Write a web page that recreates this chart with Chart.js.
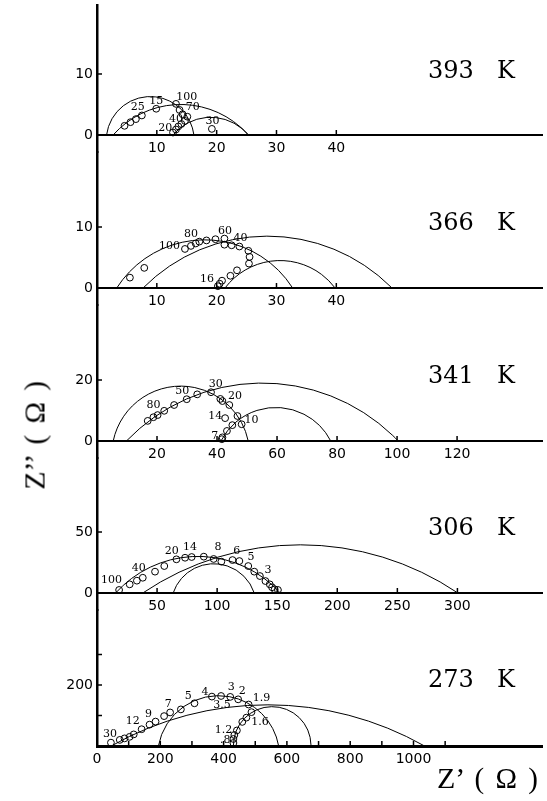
<!DOCTYPE html>
<html>
<head>
<meta charset="utf-8">
<script src="https://cdn.jsdelivr.net/npm/chart.js@4.4.0/dist/chart.umd.min.js"></script>
<style>
  body { margin: 0; background: #fff; }
  #page { position: relative; width: 547px; height: 801px; overflow: hidden; background: #fff; }
  canvas { position: absolute; left: 0; }
  .temp { position: absolute; left: 428px; font-family: 'DejaVu Serif'; font-size: 24px; line-height: 28px; white-space: pre; word-spacing: 4px; color: #000; }
  .ttl { position: absolute; font-family: 'Liberation Serif'; color: #000; white-space: pre; line-height: 30px; }
  .ttl .big { font-size: 30px; }
  .ttl .unit { font-size: 29px; letter-spacing: 2px; }
</style>
</head>
<body>
<div id="page">
  <canvas id="c1" width="547" height="160" style="top:0px"></canvas>
  <canvas id="c2" width="547" height="169" style="top:144px"></canvas>
  <canvas id="c3" width="547" height="169" style="top:297px"></canvas>
  <canvas id="c4" width="547" height="168" style="top:450px"></canvas>
  <canvas id="c5" width="547" height="178" style="top:602px"></canvas>
</div>
<script>
// temperatures, top panel first
var temps = ['393  K', '366  K', '341  K', '306  K', '273  K'];

// 393 K
var x393 = [4.6, 5.6, 6.5, 7.5, 9.9, 13.2, 13.8, 14.3, 15.1, 14.7, 14.1, 13.6, 13.2, 12.7, 19.2];
var y393 = [1.5, 2.1, 2.6, 3.2, 4.3, 5.1, 4.1, 3.4, 3.0, 2.3, 1.8, 1.4, 0.9, 0.4, 1.0];
var arcs393 = [[1.6, 16.2, 6.3], [2.7, 25.3, 5.0], [12.7, 25.3, 2.9]];
var lab393 = [['25', 6.8, 4.6], ['15', 9.9, 5.5], ['100', 15.0, 6.2], ['70', 16.0, 4.6],
              ['40', 13.2, 2.6], ['20', 11.4, 1.1], ['30', 19.3, 2.2]];
var xt393 = [10, 20, 30, 40];
var yt393 = [0, 10];

// 366 K
var x366 = [5.5, 7.9, 14.7, 15.7, 16.5, 17.1, 18.3, 19.8, 21.3, 21.3, 22.5, 23.8, 25.3, 25.5, 25.4, 23.4, 22.3, 20.9, 20.5, 20.2];
var y366 = [1.7, 3.3, 6.4, 6.9, 7.3, 7.6, 7.8, 8.0, 8.1, 7.1, 7.0, 6.8, 6.1, 5.1, 4.0, 2.9, 2.0, 1.2, 0.7, 0.3];
var arcs366 = [[3.3, 32.7, 7.9], [7.7, 49.3, 8.5], [21.4, 39.8, 4.5]];
var lab366 = [['100', 12.1, 6.8], ['80', 15.7, 8.9], ['60', 21.4, 9.4], ['40', 24.0, 8.1], ['16', 18.4, 1.5]];
var xt366 = [10, 20, 30, 40];
var yt366 = [0, 10];

// 341 K
var x341 = [16.9, 18.8, 20.2, 22.4, 25.7, 29.9, 33.4, 38.0, 41.1, 41.8, 44.1, 46.8, 48.2, 45.1, 43.3, 41.8, 41.6, 42.7];
var y341 = [6.6, 7.8, 8.5, 9.9, 11.8, 13.7, 15.3, 16.0, 13.8, 13.1, 11.8, 8.2, 5.5, 5.2, 3.3, 1.2, 0.6, 7.5];
var arcs341 = [[5.4, 50.4, 18], [9.8, 100.4, 19], [41.3, 77.9, 11]];
var lab341 = [['80', 18.8, 11.8], ['50', 28.4, 16.4], ['30', 39.6, 18.6], ['20', 46.0, 14.8],
              ['14', 39.4, 8.2], ['10', 51.5, 6.7], ['7', 39.2, 1.6]];
var xt341 = [20, 40, 60, 80, 100, 120];
var yt341 = [0, 20];

// 306 K
var x306 = [18.4, 27.2, 33.2, 38.1, 48.3, 56.0, 66.1, 73.3, 78.8, 88.9, 97.1, 103.5, 112.8, 118.5, 125.9, 130.9, 135.6, 140.2, 143.8, 145.7, 147.9, 150.6];
var y306 = [2.5, 7.1, 10.1, 12.5, 17.5, 22.1, 27.6, 28.9, 29.5, 29.8, 27.9, 25.7, 27.0, 26.2, 22.1, 17.5, 13.9, 9.8, 7.1, 4.7, 3.0, 2.5];
var arcs306 = [[15.5, 152.5, 30], [38.1, 300.4, 39.5], [63.4, 130.9, 24]];
var lab306 = [['100', 12.1, 10.7], ['40', 34.8, 20.7], ['20', 62.3, 34.4], ['14', 77.4, 38.0],
              ['8', 100.7, 38.0], ['6', 116.3, 34.4], ['5', 128.1, 29.8], ['3', 142.4, 18.9]];
var xt306 = [50, 100, 150, 200, 250, 300];
var yt306 = [0, 50];

// 273 K
var x273 = [44, 72, 87, 103, 116, 141, 166, 185, 212, 231, 265, 308, 363, 392, 421, 446, 479, 488, 472, 459, 442, 434, 431, 431];
var y273 = [11, 20, 25, 30, 38, 55, 70, 80, 98, 110, 120, 140, 162, 164, 161, 153, 136, 111, 93, 79, 51, 36, 23, 10];
var arcs273 = [[45, 1035, 135], [194, 574, 165], [431, 676, 129]];
var lab273 = [['30', 41, 38], ['12', 113, 82], ['9', 163, 104], ['7', 225, 138], ['5', 288, 165],
              ['4', 341, 175], ['3', 424, 192], ['2', 459, 180], ['1.9', 520, 156], ['3.5', 395, 134],
              ['1.6', 515, 78], ['1.2', 400, 52], ['.8', 405, 20]];
var xt273 = [0, 100, 200, 300, 400, 500, 600, 700, 800, 900, 1000, 1100];
var xl273 = [0, 200, 400, 600, 800, 1000];
var yt273 = [100, 200, 300];
var yl273 = [200];

// arcs, frequency labels and the inward tick marks
var nyquist = {
  id: 'nyquist',
  beforeDatasetsDraw: function(chart, args, opts) {
    var ctx = chart.ctx, xs = chart.scales.x, ys = chart.scales.y;
    var y0 = ys.getPixelForValue(0);
    ctx.save();
    ctx.strokeStyle = '#000';
    ctx.lineWidth = 1;
    opts.arcs.forEach(function(a) {
      var p1 = xs.getPixelForValue(a[0]), p2 = xs.getPixelForValue(a[1]);
      var h = y0 - ys.getPixelForValue(a[2]);
      var half = (p2 - p1) / 2, cx = (p1 + p2) / 2;
      var r = (half * half + h * h) / (2 * h), cy = y0 + r - h;
      var s = Math.atan2(y0 - cy, p1 - cx), e = Math.atan2(y0 - cy, p2 - cx);
      ctx.beginPath();
      ctx.arc(cx, cy, r, s, e, false);
      ctx.stroke();
    });
    ctx.restore();
  },
  afterDatasetsDraw: function(chart, args, opts) {
    var ctx = chart.ctx, xs = chart.scales.x, ys = chart.scales.y;
    var y0 = ys.getPixelForValue(0), x0 = xs.getPixelForValue(0);
    ctx.save();
    ctx.fillStyle = '#000';
    ctx.font = '11px "DejaVu Serif"';
    ctx.textAlign = 'center';
    ctx.textBaseline = 'middle';
    opts.labels.forEach(function(l) {
      ctx.fillText(l[0], xs.getPixelForValue(l[1]), ys.getPixelForValue(l[2]));
    });
    ctx.strokeStyle = '#000';
    ctx.lineWidth = 1.5;
    xs.ticks.forEach(function(t) {
      if (t.value === 0) return;
      var px = xs.getPixelForValue(t.value);
      ctx.beginPath(); ctx.moveTo(px, y0); ctx.lineTo(px, y0 - 5); ctx.stroke();
    });
    ys.ticks.forEach(function(t) {
      if (t.value === 0) return;
      var py = ys.getPixelForValue(t.value);
      ctx.beginPath(); ctx.moveTo(x0, py); ctx.lineTo(x0 + 5, py); ctx.stroke();
    });
    ctx.restore();
  }
};

function makePanel(id, xv, yv, arcs, labels, xt, xl, yt, yl, xmax, ymin, ymax, pad, axisW) {
  var pts = [];
  for (var i = 0; i < xv.length; i++) {
    pts.push({x: xv[i], y: yv[i]});
  }
  var tickFont = {family: 'DejaVu Sans', size: 14};
  return new Chart(document.getElementById(id), {
    type: 'scatter',
    data: {
      datasets: [{
        data: pts,
        showLine: false,
        pointRadius: 3.4,
        pointBorderWidth: 1,
        borderColor: '#000',
        backgroundColor: 'rgba(0,0,0,0)',
        clip: false
      }]
    },
    options: {
      responsive: false,
      animation: false,
      events: [],
      layout: {padding: {top: pad[0], bottom: pad[1], left: 0, right: 0}},
      plugins: {
        legend: {display: false},
        tooltip: {enabled: false},
        nyquist: {arcs: arcs, labels: labels}
      },
      scales: {
        x: {
          type: 'linear',
          position: {y: 0},
          min: 0,
          max: xmax,
          grid: {display: false, drawTicks: false},
          border: {display: true, color: '#000', width: axisW},
          afterBuildTicks: function(s) { s.ticks = xt.map(function(v) { return {value: v}; }); },
          afterFit: function(s) { s.paddingLeft = 0; s.paddingRight = 0; },
          ticks: {
            autoSkip: false, maxRotation: 0, padding: 5, color: '#000', font: tickFont,
            callback: function(v) { return xl.indexOf(v) >= 0 ? String(v) : ''; }
          }
        },
        y: {
          type: 'linear',
          position: 'left',
          min: ymin,
          max: ymax,
          grid: {display: false, drawTicks: false},
          border: {display: true, color: '#000', width: 2.5},
          afterBuildTicks: function(s) { s.ticks = yt.map(function(v) { return {value: v}; }); },
          afterFit: function(s) { s.width = 97; s.paddingTop = 0; s.paddingBottom = 0; },
          ticks: {
            padding: 4, color: '#000', font: tickFont,
            callback: function(v) { return yl.indexOf(v) >= 0 ? String(v) : ''; }
          }
        }
      }
    },
    plugins: [nyquist]
  });
}

makePanel('c1', x393, y393, arcs393, lab393, xt393, xt393, yt393, yt393, 74.38, -2.79, 21.31, [5, 8], 2);
makePanel('c2', x366, y366, arcs366, lab366, xt366, xt366, yt366, yt366, 74.38, -2.79, 22.30, [8, 8], 2);
makePanel('c3', x341, y341, arcs341, lab341, xt341, xt341, yt341, yt341, 148.3, -5.57, 44.59, [8, 8], 2);
makePanel('c4', x306, y306, arcs306, lab306, xt306, xt306, yt306, yt306, 370.4, -13.93, 110.66, [8, 8], 2);
makePanel('c5', x273, y273, arcs273, lab273, xt273, xl273, yt273, yl273, 1406, 0, 445.9, [8, 34], 3);

// temperature captions and axis titles
var page = document.getElementById('page');
var tempTop = [56, 208, 361, 513, 665];
temps.forEach(function(t, i) {
  var d = document.createElement('div');
  d.className = 'temp';
  d.style.top = tempTop[i] + 'px';
  d.textContent = t;
  page.appendChild(d);
});
var xt = document.createElement('div');
xt.className = 'ttl';
xt.style.left = '437px';
xt.style.top = '763px';
xt.innerHTML = '<span class="big">Z’</span><span class="unit"> ( Ω )</span>';
page.appendChild(xt);
var yt = document.createElement('div');
yt.className = 'ttl';
yt.style.left = '-33px';
yt.style.top = '417px';
yt.style.width = '140px';
yt.style.textAlign = 'center';
yt.style.transform = 'rotate(-90deg)';
yt.innerHTML = '<span class="big">Z’’</span><span class="unit"> ( Ω )</span>';
page.appendChild(yt);
</script>
</body>
</html>
